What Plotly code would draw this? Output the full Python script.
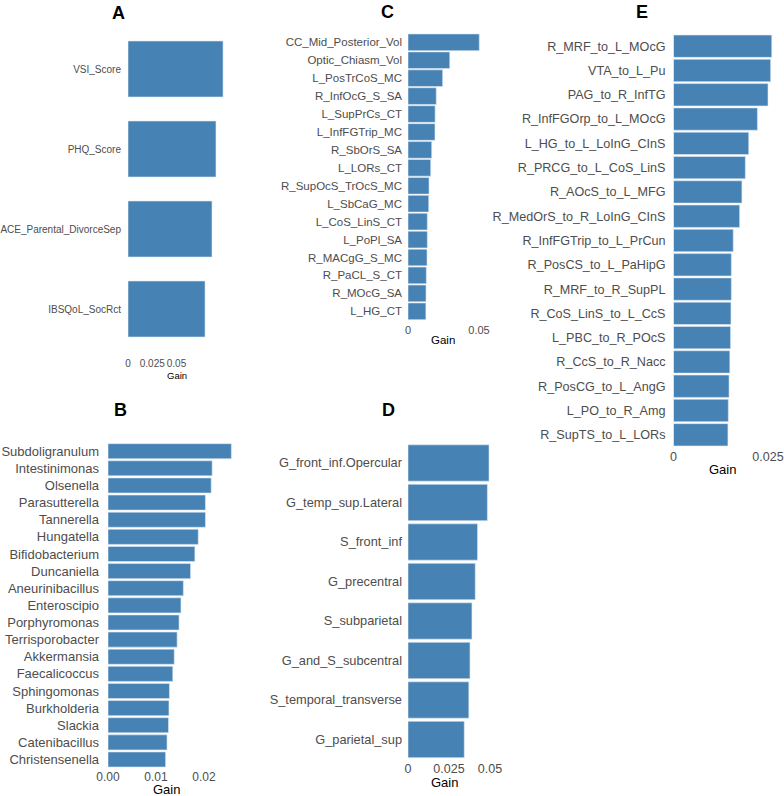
import plotly.graph_objects as go

W, H = 784, 796
FONT = "Liberation Sans, Arial, sans-serif"
BAR = "#4682B4"
TICK = "#4D4D4D"

# ---------------- data ----------------
a_features = ["VSI_Score", "PHQ_Score", "ACE_Parental_DivorceSep", "IBSQoL_SocRct"]
a_gain = [0.098, 0.0907, 0.0866, 0.0794]

b_features = ["Subdoligranulum", "Intestinimonas", "Olsenella", "Parasutterella", "Tannerella",
              "Hungatella", "Bifidobacterium", "Duncaniella", "Aneurinibacillus", "Enteroscipio",
              "Porphyromonas", "Terrisporobacter", "Akkermansia", "Faecalicoccus", "Sphingomonas",
              "Burkholderia", "Slackia", "Catenibacillus", "Christensenella"]
b_gain = [0.0257, 0.0217, 0.0215, 0.0203, 0.0203, 0.0188, 0.0181, 0.0172, 0.0157, 0.0152,
          0.0148, 0.0144, 0.0138, 0.0135, 0.0128, 0.0127, 0.0126, 0.0123, 0.0120]

c_features = ["CC_Mid_Posterior_Vol", "Optic_Chiasm_Vol", "L_PosTrCoS_MC", "R_InfOcG_S_SA",
              "L_SupPrCs_CT", "L_InfFGTrip_MC", "R_SbOrS_SA", "L_LORs_CT", "R_SupOcS_TrOcS_MC",
              "L_SbCaG_MC", "L_CoS_LinS_CT", "L_PoPl_SA", "R_MACgG_S_MC", "R_PaCL_S_CT",
              "R_MOcG_SA", "L_HG_CT"]
c_gain = [0.0502, 0.0294, 0.0244, 0.0199, 0.0191, 0.0190, 0.0167, 0.0160, 0.0148,
          0.0146, 0.0136, 0.0136, 0.0134, 0.0129, 0.0127, 0.0126]

d_features = ["G_front_inf.Opercular", "G_temp_sup.Lateral", "S_front_inf", "G_precentral",
              "S_subparietal", "G_and_S_subcentral", "S_temporal_transverse", "G_parietal_sup"]
d_gain = [0.0494, 0.0484, 0.0424, 0.0410, 0.0390, 0.0378, 0.0371, 0.0343]

e_features = ["R_MRF_to_L_MOcG", "VTA_to_L_Pu", "PAG_to_R_InfTG", "R_InfFGOrp_to_L_MOcG",
              "L_HG_to_L_LoInG_CInS", "R_PRCG_to_L_CoS_LinS", "R_AOcS_to_L_MFG",
              "R_MedOrS_to_R_LoInG_CInS", "R_InfFGTrip_to_L_PrCun", "R_PosCS_to_L_PaHipG",
              "R_MRF_to_R_SupPL", "R_CoS_LinS_to_L_CcS", "L_PBC_to_R_POcS", "R_CcS_to_R_Nacc",
              "R_PosCG_to_L_AngG", "L_PO_to_R_Amg", "R_SupTS_to_L_LORs"]
e_gain = [0.0260, 0.0257, 0.0250, 0.0222, 0.0199, 0.0190, 0.0181, 0.0175, 0.0158, 0.0153,
          0.0153, 0.0152, 0.0151, 0.0149, 0.0147, 0.0145, 0.0144]

a_ticks = [0, 0.025, 0.05]
a_ticktext = ["0", "0.025", "0.05"]
b_ticks = [0, 0.01, 0.02]
b_ticktext = ["0.00", "0.01", "0.02"]
c_ticks = [0, 0.05]
c_ticktext = ["0", "0.05"]
d_ticks = [0, 0.025, 0.05]
d_ticktext = ["0", "0.025", "0.05"]
e_ticks = [0, 0.025]
e_ticktext = ["0", "0.025"]

# ---------------- layout spec (pixels) ----------------
panels = [
    dict(letter="A", feats=a_features, gain=a_gain, tv=a_ticks, tt=a_ticktext,
         x0=128, ppu=970, xmax=0.1, top=21, bot=356, c0=69, c1=309,
         yfont=10, xfont=10, gfont=9.5, gap=0.3, stand=6,
         title=(118, 13), gain_xy=(177, 375)),
    dict(letter="B", feats=b_features, gain=b_gain, tv=b_ticks, tt=b_ticktext,
         x0=108, ppu=4800, xmax=0.027, top=441, bot=768, c0=451.2, c1=759.5,
         yfont=13, xfont=12, gfont=13, gap=0.12, stand=8,
         title=(120, 410), gain_xy=(166, 789.5)),
    dict(letter="C", feats=c_features, gain=c_gain, tv=c_ticks, tt=c_ticktext,
         x0=408, ppu=1420, xmax=0.055, top=31.5, bot=322, c0=42.3, c1=311.3,
         yfont=11.5, xfont=11, gfont=11.5, gap=0.07, stand=5,
         title=(387, 12), gain_xy=(443, 340)),
    dict(letter="D", feats=d_features, gain=d_gain, tv=d_ticks, tt=d_ticktext,
         x0=408, ppu=1640, xmax=0.052, top=440, bot=759, c0=463, c1=739.5,
         yfont=12.8, xfont=12.5, gfont=13, gap=0.08, stand=5,
         title=(388, 410), gain_xy=(445, 782)),
    dict(letter="E", feats=e_features, gain=e_gain, tv=e_ticks, tt=e_ticktext,
         x0=673.5, ppu=3780, xmax=0.0275, top=31.6, bot=447.5, c0=46.2, c1=434.8,
         yfont=12.6, xfont=12.5, gfont=13, gap=0.08, stand=7,
         title=(642, 12), gain_xy=(722, 470)),
]

fig = go.Figure()
annotations = []
layout = {}

for i, p in enumerate(panels):
    k = "" if i == 0 else str(i + 1)
    n = len(p["feats"])
    pitch = (p["c1"] - p["c0"]) / (n - 1)
    r_top = -(p["c0"] - p["top"]) / pitch
    r_bot = (n - 1) + (p["bot"] - p["c1"]) / pitch
    x_left = p["x0"] / W
    x_right = (p["x0"] + p["xmax"] * p["ppu"]) / W

    fig.add_trace(go.Bar(
        x=p["gain"], y=p["feats"], orientation="h", width=1 - p["gap"],
        marker=dict(color=BAR, line=dict(color="#dfe8f1", width=0.6)),
        xaxis="x" + k, yaxis="y" + k, showlegend=False, hoverinfo="x+y",
    ))

    layout["xaxis" + k] = dict(
        domain=[x_left, x_right], range=[0, p["xmax"]], anchor="y" + k,
        showgrid=False, zeroline=False, showline=False, ticks="",
        tickmode="array", tickvals=p["tv"], ticktext=p["tt"], tickangle=0,
        automargin=False, ticklabeloverflow="allow",
        tickfont=dict(family=FONT, size=p["xfont"], color=TICK),
    )
    layout["yaxis" + k] = dict(
        domain=[1 - p["bot"] / H, 1 - p["top"] / H], anchor="x" + k,
        type="category", categoryorder="array", categoryarray=p["feats"],
        range=[r_bot, r_top], automargin=False, ticklabeloverflow="allow",
        showgrid=False, zeroline=False, showline=False, ticks="",
        ticklabelstandoff=p["stand"],
        tickfont=dict(family=FONT, size=p["yfont"], color=TICK),
    )

    annotations.append(dict(
        text="<b>" + p["letter"] + "</b>", x=p["title"][0] / W, y=1 - p["title"][1] / H,
        xref="paper", yref="paper", showarrow=False, xanchor="center", yanchor="middle",
        font=dict(family=FONT, size=18, color="black"),
    ))
    annotations.append(dict(
        text="Gain", x=p["gain_xy"][0] / W, y=1 - p["gain_xy"][1] / H,
        xref="paper", yref="paper", showarrow=False, xanchor="center", yanchor="middle",
        font=dict(family=FONT, size=p["gfont"], color="black"),
    ))

fig.update_layout(
    **layout,
    width=W, height=H,
    margin=dict(l=0, r=0, t=0, b=0),
    paper_bgcolor="white", plot_bgcolor="white",
    annotations=annotations,
    font=dict(family=FONT),
)

fig.write_html("out.html")
